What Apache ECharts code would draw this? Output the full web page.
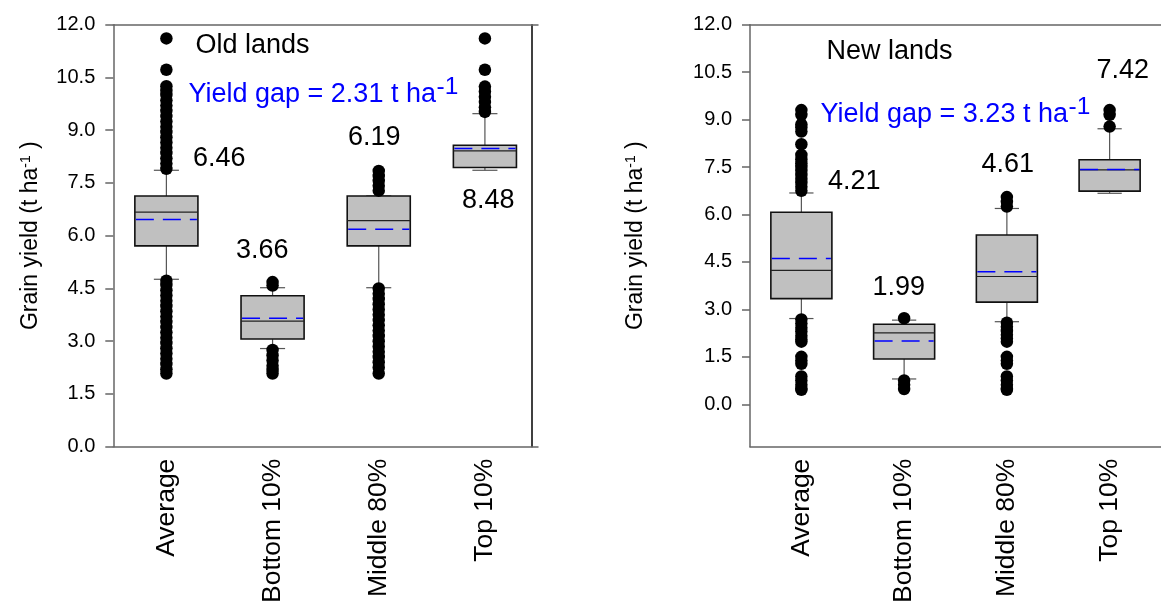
<!DOCTYPE html>
<html><head><meta charset="utf-8">
<script src="https://cdn.jsdelivr.net/npm/echarts@6/dist/echarts.min.js"></script>
<style>html,body{margin:0;padding:0;background:#fff}#c{width:1161px;height:606px}</style>
</head><body><div id="c"></div>
<script>
// ---------- data ----------
const categories = ['Average', 'Bottom 10%', 'Middle 80%', 'Top 10%'];
const yTickValues = [0, 1.5, 3, 4.5, 6, 7.5, 9, 10.5, 12];

// box stats: [lower whisker, Q1, median, Q3, upper whisker]
const oldBoxes = [
  [4.76, 5.71, 6.67, 7.13, 7.86],
  [2.79, 3.06, 3.57, 4.29, 4.52],
  [4.52, 5.71, 6.43, 7.13, 7.13],
  [7.86, 7.94, 8.41, 8.57, 9.47]
];
const oldMeans = [6.46, 3.65, 6.18, 8.48];
const newBoxes = [
  [2.71, 3.34, 4.23, 6.07, 6.68],
  [0.80, 1.43, 2.26, 2.53, 2.66],
  [2.61, 3.23, 4.04, 5.35, 6.19],
  [6.67, 6.74, 7.41, 7.73, 8.71]
];
const newMeans = [4.61, 2.00, 4.19, 7.42];

// outliers per category
const oldOutAverage = [7.90, 8.05, 8.20, 8.35, 8.50, 8.65, 8.80, 8.95, 9.10, 9.25, 9.40, 9.55, 9.70, 9.85, 10.00, 10.12, 10.25, 10.72, 11.61,
  4.72, 4.60, 4.45, 4.30, 4.15, 4.00, 3.85, 3.70, 3.55, 3.40, 3.25, 3.10, 2.95, 2.80, 2.65, 2.50, 2.35, 2.20, 2.08];
const oldOutBottom = [4.58, 4.68, 2.75, 2.60, 2.45, 2.30, 2.18, 2.08];
const oldOutMiddle = [7.28, 7.42, 7.56, 7.70, 7.84,
  4.50, 4.35, 4.20, 4.05, 3.90, 3.75, 3.60, 3.45, 3.30, 3.15, 3.00, 2.85, 2.70, 2.55, 2.40, 2.25, 2.08];
const oldOutTop = [9.52, 9.65, 9.80, 9.95, 10.10, 10.24, 10.72, 11.61];

const newOutAverage = [6.75, 6.88, 7.00, 7.12, 7.25, 7.38, 7.50, 7.62, 7.75, 7.88, 8.22, 8.62, 8.75, 8.85, 9.15, 9.30,
  2.68, 2.55, 2.42, 2.30, 2.17, 2.05, 1.98, 1.50, 1.38, 1.28, 0.88, 0.75, 0.62, 0.50, 0.46];
const newOutBottom = [2.72, 0.75, 0.62, 0.48];
const newOutMiddle = [6.25, 6.40, 6.55,
  2.58, 2.45, 2.32, 2.20, 2.08, 1.98, 1.50, 1.38, 1.28, 0.88, 0.75, 0.62, 0.50, 0.46];
const newOutTop = [8.78, 9.15, 9.30];

const oldLabels = ['6.46', '3.66', '6.19', '8.48'];
const newLabels = ['4.21', '1.99', '4.61', '7.42'];
const oldTitle = 'Old lands';
const newTitle = 'New lands';
const oldGap = 'Yield gap = 2.31 t ha';
const newGap = 'Yield gap = 3.23 t ha';
const supText = '-1';

// ---------- build ----------
const FONT = '"Liberation Sans", Arial, sans-serif';
function boxData(boxes, means) {
  return boxes.map((b, i) => [i, b[0], b[1], b[2], b[3], b[4], means[i]]);
}
function outData(lists) {
  const out = [];
  lists.forEach((l, i) => l.forEach(v => out.push([i, v])));
  return out;
}
function renderBox(params, api) {
  const i = api.value(0);
  const vals = [1, 2, 3, 4, 5, 6].map(k => api.value(k));
  const band = api.size([1, 0])[0];
  const bw = band * 0.594, cw = band * 0.236;
  const pLW = api.coord([i, vals[0]]), pQ1 = api.coord([i, vals[1]]),
        pMed = api.coord([i, vals[2]]), pQ3 = api.coord([i, vals[3]]),
        pUW = api.coord([i, vals[4]]), pMean = api.coord([i, vals[5]]);
  const cx = pQ1[0];
  const wStyle = { stroke: '#555', lineWidth: 1.2 };
  return {
    type: 'group',
    children: [
      { type: 'line', shape: { x1: cx, y1: pQ1[1], x2: cx, y2: pLW[1] }, style: wStyle },
      { type: 'line', shape: { x1: cx, y1: pQ3[1], x2: cx, y2: pUW[1] }, style: wStyle },
      { type: 'line', shape: { x1: cx - cw / 2, y1: pLW[1], x2: cx + cw / 2, y2: pLW[1] }, style: wStyle },
      { type: 'line', shape: { x1: cx - cw / 2, y1: pUW[1], x2: cx + cw / 2, y2: pUW[1] }, style: wStyle },
      { type: 'rect', shape: { x: cx - bw / 2, y: pQ3[1], width: bw, height: pQ1[1] - pQ3[1] },
        style: { fill: '#c0c0c0', stroke: '#111', lineWidth: 1.6 } },
      { type: 'line', shape: { x1: cx - bw / 2, y1: pMed[1], x2: cx + bw / 2, y2: pMed[1] },
        style: { stroke: '#222', lineWidth: 1.2 } },
      { type: 'line', shape: { x1: cx - bw / 2 + 1, y1: pMean[1], x2: cx + bw / 2 - 1, y2: pMean[1] },
        style: { stroke: '#0000ff', lineWidth: 1.5, lineDash: [18, 9] } }
    ]
  };
}

const axisGray = { color: '#666', width: 1.5 };
function yName() {
  return '{a|Grain yield (t ha}{s|-1}{a| )}';
}
const nameStyle = {
  color: '#000', fontFamily: FONT,
  rich: {
    a: { fontSize: 23, lineHeight: 28, verticalAlign: 'bottom', fontFamily: FONT, color: '#000' },
    s: { fontSize: 14, lineHeight: 14, padding: [0, 0, 9, 0], verticalAlign: 'bottom', fontFamily: FONT, color: '#000' }
  }
};

function xAxes(gi) {
  return [
    { gridIndex: gi, type: 'category', data: categories, boundaryGap: true,
      axisLine: { onZero: false, lineStyle: axisGray },
      axisTick: { alignWithLabel: true, length: 6, lineStyle: axisGray },
      axisLabel: { rotate: 90, interval: 0, fontSize: 26.5, color: '#000', margin: 12, fontFamily: FONT },
      splitLine: { show: false } },
    { gridIndex: gi, type: 'category', data: categories, position: 'top',
      axisLine: { onZero: false, lineStyle: axisGray }, axisTick: { show: false }, axisLabel: { show: false },
      splitLine: { show: false } }
  ];
}
function yAxis(gi, min, gap, extra) {
  return Object.assign({
    gridIndex: gi, type: 'value', min: min, max: 12,
    axisLine: { show: true, onZero: false, lineStyle: axisGray },
    axisTick: { show: true, length: 8, lineStyle: axisGray, customValues: yTickValues },
    axisLabel: { fontSize: 20, color: '#000', margin: 18, fontFamily: FONT,
      customValues: yTickValues, formatter: v => Number(v).toFixed(1) },
    splitLine: { show: false },
    name: yName(), nameLocation: 'middle', nameGap: gap, nameTextStyle: nameStyle
  }, extra || {});
}

function txt(text, x, y, size, color) {
  return { type: 'text', x: x, y: y, silent: true,
    style: { text: text, fill: color || '#000', fontSize: size, fontFamily: FONT,
      align: 'left', verticalAlign: 'middle', textAlign: 'left', textVerticalAlign: 'middle' } };
}

const TS = 27;
const option = {
  animation: false,
  backgroundColor: '#fff',
  grid: [
    { left: 113.3, top: 24.7, width: 424.7, height: 423.6 },
    { left: 750, top: 24.7, width: 424, height: 423.6 }
  ],
  xAxis: [...xAxes(0), ...xAxes(1)],
  yAxis: [
    yAxis(0, 0, 71),
    { gridIndex: 0, type: 'value', min: 0, max: 12, position: 'right', offset: -6.3,
      axisLine: { show: true, onZero: false, lineStyle: { color: '#000', width: 1.5 } },
      axisTick: { show: false }, axisLabel: { show: false }, splitLine: { show: false } },
    yAxis(1, -1.34, 103)
  ],
  series: [
    { type: 'custom', xAxisIndex: 0, yAxisIndex: 0, renderItem: renderBox,
      encode: { x: 0, y: [1, 2, 3, 4, 5] }, data: boxData(oldBoxes, oldMeans), z: 2 },
    { type: 'scatter', xAxisIndex: 0, yAxisIndex: 0, symbolSize: 12.5, itemStyle: { color: '#000', opacity: 1 },
      data: outData([oldOutAverage, oldOutBottom, oldOutMiddle, oldOutTop]), z: 3, silent: true },
    { type: 'custom', xAxisIndex: 2, yAxisIndex: 2, renderItem: renderBox,
      encode: { x: 0, y: [1, 2, 3, 4, 5] }, data: boxData(newBoxes, newMeans), z: 2 },
    { type: 'scatter', xAxisIndex: 2, yAxisIndex: 2, symbolSize: 12.5, itemStyle: { color: '#000', opacity: 1 },
      data: outData([newOutAverage, newOutBottom, newOutMiddle, newOutTop]), z: 3, silent: true }
  ],
  graphic: [
    txt(oldTitle, 195.5, 45.8, TS),
    txt(oldGap, 188.5, 94.7, TS, '#0000ff'),
    txt(supText, 436.5, 87, 24.5, '#0000ff'),
    txt(oldLabels[0], 193, 158.5, TS),
    txt(oldLabels[1], 236, 250.2, TS),
    txt(oldLabels[2], 348, 137.5, TS),
    txt(oldLabels[3], 462, 200.2, TS),
    txt(newTitle, 826.5, 51.2, TS),
    txt(newGap, 820.5, 114.8, TS, '#0000ff'),
    txt(supText, 1068.5, 107, 24.5, '#0000ff'),
    txt(newLabels[0], 828, 181.8, TS),
    txt(newLabels[1], 872.5, 287.8, TS),
    txt(newLabels[2], 981.5, 164.5, TS),
    txt(newLabels[3], 1096.5, 70.2, TS)
  ]
};
const chart = echarts.init(document.getElementById('c'), null, { renderer: 'canvas' });
chart.setOption(option);
</script>
</body></html>
